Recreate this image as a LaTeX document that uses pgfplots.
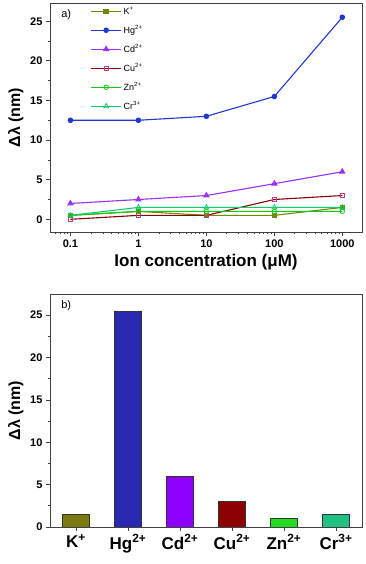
\documentclass[border=0pt]{standalone}
\usepackage{fontspec}
\setmainfont{Liberation Sans}
\usepackage{pgfplots}
\pgfplotsset{compat=1.18}

\definecolor{kcol}{HTML}{6E8A00}
\definecolor{kbar}{HTML}{7A7A10}
\definecolor{hgcol}{HTML}{2038D0}
\definecolor{hgbar}{HTML}{2828B0}
\definecolor{cdcol}{HTML}{9A30FF}
\definecolor{cdbar}{HTML}{8C00FF}
\definecolor{cucol}{HTML}{8B0000}
\definecolor{cumark}{HTML}{C03C90}
\definecolor{zncol}{HTML}{10CC10}
\definecolor{znbar}{HTML}{22DD22}
\definecolor{crcol}{HTML}{10CC70}
\definecolor{crbar}{HTML}{20C080}
\definecolor{framecol}{HTML}{404040}

\pgfplotsset{
  panel/.style={
    scale only axis, width=312pt,
    axis line style={draw=framecol, line width=0.8pt},
    tick align=outside, xtick pos=bottom, ytick pos=left,
    tick style={framecol, line width=0.7pt},
    major tick length=4pt, minor tick length=2.2pt,
    ticklabel style={font=\fontsize{11}{11}\selectfont\bfseries},
    /pgf/number format/assume math mode=true,
    xlabel style={font=\fontsize{17}{17}\selectfont\bfseries},
    ylabel style={font=\fontsize{16}{16}\selectfont\bfseries},
  },
  ln/.style={line width=1.1pt, mark size=2.2pt},
}

\begin{document}
\begin{tikzpicture}
\useasboundingbox (0,0) rectangle (366pt,564pt);

% panel a
\begin{axis}[panel, at={(50pt,332pt)}, anchor=south west, height=229pt,
  xmode=log, xmin=0.05, xmax=1950, ymin=-1.6, ymax=27.3,
  xtick={0.1,1,10,100,1000}, xticklabels={0.1,1,10,100,1000},
  minor xtick={0.06,0.07,0.08,0.09,0.2,0.3,0.4,0.5,0.6,0.7,0.8,0.9,
    2,3,4,5,6,7,8,9,20,30,40,50,60,70,80,90,200,300,400,500,600,700,800,900},
  ytick={0,5,10,15,20,25}, minor y tick num=1,
  xlabel={Ion concentration (μM)}, ylabel={Δλ (nm)},
  legend style={at={(0.12,1.0)}, anchor=north west, draw=none, fill=none,
    font=\fontsize{9}{9}\selectfont, row sep=5.5pt},
  legend image code/.code={\draw[mark repeat=2,mark phase=2,#1]
    plot coordinates {(0pt,0pt)(15pt,0pt)(30pt,0pt)};},
  legend cell align=left,
]
\addplot[ln, kcol, mark=square*] coordinates {(0.1,0.5)(1,1)(10,0.5)(100,0.5)(1000,1.5)};
\addlegendentry{K\textsuperscript{+}}
\addplot[ln, hgcol, mark=*] coordinates {(0.1,12.5)(1,12.5)(10,13)(100,15.5)(1000,25.5)};
\addlegendentry{Hg\textsuperscript{2+}}
\addplot[ln, cdcol, mark=triangle*, mark size=2.8pt] coordinates {(0.1,2)(1,2.5)(10,3)(100,4.5)(1000,6)};
\addlegendentry{Cd\textsuperscript{2+}}
\addplot[ln, cucol, mark=square, mark options={draw=cumark, fill=white, line width=0.8pt}] coordinates {(0.1,0)(1,0.5)(10,0.5)(100,2.5)(1000,3)};
\addlegendentry{Cu\textsuperscript{2+}}
\addplot[ln, zncol, mark=o, mark options={fill=white, line width=0.8pt}] coordinates {(0.1,0.5)(1,1)(10,1)(100,1)(1000,1)};
\addlegendentry{Zn\textsuperscript{2+}}
\addplot[ln, crcol, mark=triangle, mark size=2.8pt, mark options={fill=white, line width=0.8pt}] coordinates {(0.1,0.5)(1,1.5)(10,1.5)(100,1.5)(1000,1.5)};
\addlegendentry{Cr\textsuperscript{3+}}
\node[anchor=north west, font=\fontsize{11}{11}\selectfont] at (rel axis cs:0.025,0.985) {a)};
\end{axis}

% panel b
\begin{axis}[panel, at={(50pt,37pt)}, anchor=south west, height=233pt,
  xmin=0.5, xmax=6.5, ymin=0, ymax=27.5,
  xtick={1,2,3,4,5,6},
  xticklabels={K\textsuperscript{+},Hg\textsuperscript{2+},Cd\textsuperscript{2+},
    Cu\textsuperscript{2+},Zn\textsuperscript{2+},Cr\textsuperscript{3+}},
  xticklabel style={font=\fontsize{17}{17}\selectfont\bfseries},
  ytick={0,5,10,15,20,25}, minor y tick num=1,
  ylabel={Δλ (nm)},
]
\addplot[ybar, bar width=27pt, fill=kbar, draw=black!80] coordinates {(1,1.5)};
\addplot[ybar, bar width=27pt, fill=hgbar, draw=black!80] coordinates {(2,25.5)};
\addplot[ybar, bar width=27pt, fill=cdbar, draw=black!80] coordinates {(3,6)};
\addplot[ybar, bar width=27pt, fill=cucol, draw=black!80] coordinates {(4,3)};
\addplot[ybar, bar width=27pt, fill=znbar, draw=black!80] coordinates {(5,1)};
\addplot[ybar, bar width=27pt, fill=crbar, draw=black!80] coordinates {(6,1.5)};
\node[anchor=north west, font=\fontsize{11}{11}\selectfont] at (rel axis cs:0.025,0.985) {b)};
\end{axis}
\end{tikzpicture}
\end{document}
